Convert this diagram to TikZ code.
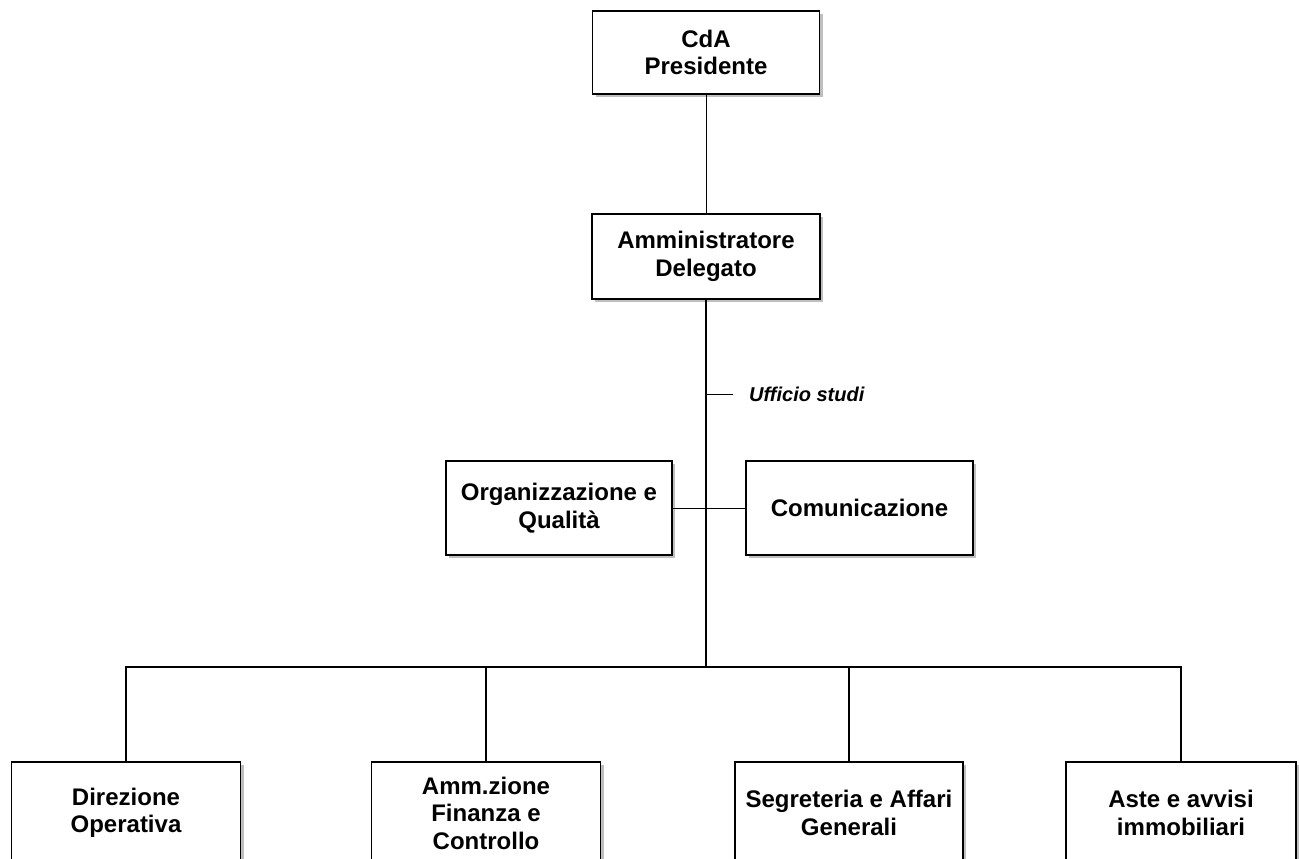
\documentclass[tikz,border=0pt]{standalone}
\usepackage{fontspec}
\setmainfont{Liberation Sans}
\usetikzlibrary{shadows}
\begin{document}
\begin{tikzpicture}[x=1pt,y=-1pt,
  unit/.style={draw,line width=1.4pt,fill=white,align=center,inner sep=0pt,
    font=\bfseries\fontsize{24}{27.5}\selectfont,
    drop shadow={shadow xshift=3pt,shadow yshift=-3pt,fill=black!25,opacity=1}},
  link/.style={line width=1pt},
  trunk/.style={line width=2pt}]
  \useasboundingbox[fill=white] (0,0) rectangle (1299,859);
  % vertice
  \node[unit,minimum width=227pt,minimum height=83pt] (cda) at (706,52.5) {CdA\\Presidente};
  \node[unit,minimum width=228pt,minimum height=85pt] (ad) at (706,256.5) {Amministratore\\Delegato};
  % staff
  \node[unit,minimum width=226pt,minimum height=94pt] (org) at (559,508) {Organizzazione e\\Qualità};
  \node[unit,minimum width=227pt,minimum height=94pt] (com) at (859.5,508) {Comunicazione};
  % direzioni
  \node[unit,minimum width=229pt,minimum height=102pt] (dir) at (126,813) {Direzione\\Operativa};
  \node[unit,minimum width=229pt,minimum height=102pt] (amm) at (486,813) {Amm.zione\\Finanza  e\\Controllo};
  \node[unit,minimum width=228pt,minimum height=102pt] (seg) at (849,813) {Segreteria e Affari\\Generali};
  \node[unit,minimum width=230pt,minimum height=102pt] (aste) at (1181,813) {Aste e avvisi\\immobiliari};
  \coordinate (bus) at (706,667);
  \coordinate (uff) at (706,394);
  \coordinate (uffend) at (733,394);
  \node[anchor=west,inner sep=0pt,font=\bfseries\itshape\fontsize{20}{22}\selectfont] (studi) at (749,394) {Ufficio studi};
  \draw[link] (cda) -- (ad);
  \draw[trunk] (ad) -- (bus);
  \draw[link] (uff) -- (uffend);
  \draw[link] (org) -- (com);
  \draw[line width=1.4pt] (dir.north) |- (bus) -| (aste.north);
  \draw[line width=1.4pt] (amm.north) -- (amm.north |- bus);
  \draw[line width=1.4pt] (seg.north) -- (seg.north |- bus);
\end{tikzpicture}
\end{document}
